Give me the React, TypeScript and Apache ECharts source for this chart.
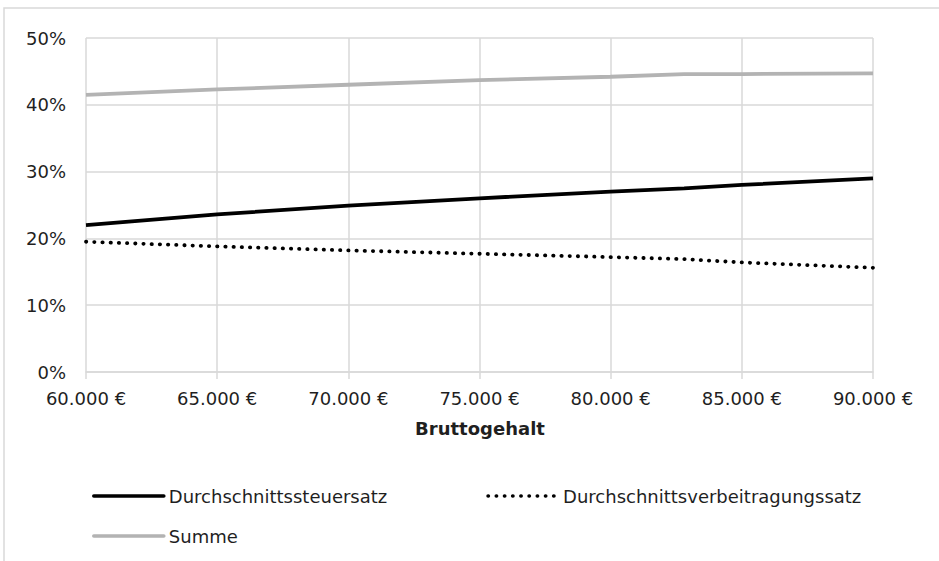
import React, { useEffect, useRef } from "react";
import * as echarts from "echarts";

const salaries = [60000, 65000, 70000, 75000, 80000, 82800, 85000, 90000];
const steuersatz = [22.0, 23.6, 24.9, 26.0, 27.0, 27.5, 28.0, 29.0];
const beitragssatz = [19.5, 18.8, 18.2, 17.7, 17.2, 16.9, 16.4, 15.6];
const summe = [41.5, 42.3, 43.0, 43.7, 44.2, 44.6, 44.6, 44.7];
const seriesNames = ["Durchschnittssteuersatz", "Durchschnittsverbeitragungssatz", "Summe"];
const xTitle = "Bruttogehalt";

const FONT = '"DejaVu Sans", sans-serif';
const TEXT = "#1f1f1f";
const GRID = "#d9d9d9";

function fmtEuro(v: number): string {
  const k = Math.round(v / 1000);
  return `${k}.000 €`;
}

export default function App() {
  const ref = useRef<HTMLDivElement>(null);
  useEffect(() => {
    if (!ref.current) return;
    const chart = echarts.init(ref.current, undefined, { renderer: "svg" });
    const pairs = (ys: number[]) => salaries.map((x, i) => [x, ys[i]]);
    const legendCommon = {
      left: 92,
      padding: 0,
      itemWidth: 70,
      itemHeight: 14,
      itemStyle: { opacity: 0 },
      lineStyle: { width: 3.6, cap: "round" },
      textStyle: { fontSize: 18, fontFamily: FONT, color: TEXT },
    };
    chart.setOption({
      animation: false,
      backgroundColor: "#ffffff",
      grid: { left: 86, right: 66, top: 38, bottom: 189, containLabel: false },
      xAxis: {
        type: "value",
        min: 60000,
        max: 90000,
        interval: 5000,
        axisLine: { show: true, lineStyle: { color: GRID, width: 1.5 } },
        axisTick: { show: true, length: 7, lineStyle: { color: GRID, width: 1.5 } },
        splitLine: { show: true, lineStyle: { color: GRID, width: 1.5 } },
        axisLabel: {
          formatter: (v: number) => fmtEuro(v),
          fontSize: 18,
          fontFamily: FONT,
          color: TEXT,
          margin: 17,
        },
      },
      yAxis: {
        type: "value",
        min: 0,
        max: 50,
        interval: 10,
        axisLine: { show: false },
        axisTick: { show: false },
        splitLine: { show: true, lineStyle: { color: GRID, width: 1.5 } },
        axisLabel: {
          formatter: "{value}%",
          fontSize: 18,
          fontFamily: FONT,
          color: TEXT,
          margin: 20,
        },
      },
      legend: [
        {
          ...legendCommon,
          top: 487,
          itemGap: 99,
          data: [seriesNames[0], seriesNames[1]],
        },
        {
          ...legendCommon,
          top: 527,
          data: [seriesNames[2]],
        },
      ],
      graphic: [
        {
          type: "rect",
          z: -10,
          shape: { x: 4, y: 8, width: 1000, height: 700 },
          style: { fill: "none", stroke: GRID, lineWidth: 1.5 },
          silent: true,
        },
        {
          type: "text",
          x: 480,
          y: 428,
          style: {
            text: xTitle,
            fontSize: 18,
            fontWeight: "bold",
            fontFamily: FONT,
            fill: TEXT,
            align: "center",
            verticalAlign: "middle",
          },
        },
      ],
      series: [
        {
          name: seriesNames[2],
          type: "line",
          data: pairs(summe),
          symbol: "none",
          showSymbol: false,
          lineStyle: { color: "#b3b3b3", width: 3.8 },
          itemStyle: { color: "#b3b3b3" },
          z: 2,
        },
        {
          name: seriesNames[0],
          type: "line",
          data: pairs(steuersatz),
          symbol: "none",
          showSymbol: false,
          lineStyle: { color: "#000000", width: 3.8 },
          itemStyle: { color: "#000000" },
          z: 3,
        },
        {
          name: seriesNames[1],
          type: "line",
          data: pairs(beitragssatz),
          symbol: "none",
          showSymbol: false,
          lineStyle: { color: "#000000", width: 3.8, type: [0.3, 7.9], cap: "round" },
          itemStyle: { color: "#000000" },
          z: 3,
        },
      ],
    });
    return () => chart.dispose();
  }, []);
  return (
    <div
      ref={ref}
      style={{ position: "absolute", left: 0, top: 0, width: 939, height: 561, background: "#fff" }}
    />
  );
}
